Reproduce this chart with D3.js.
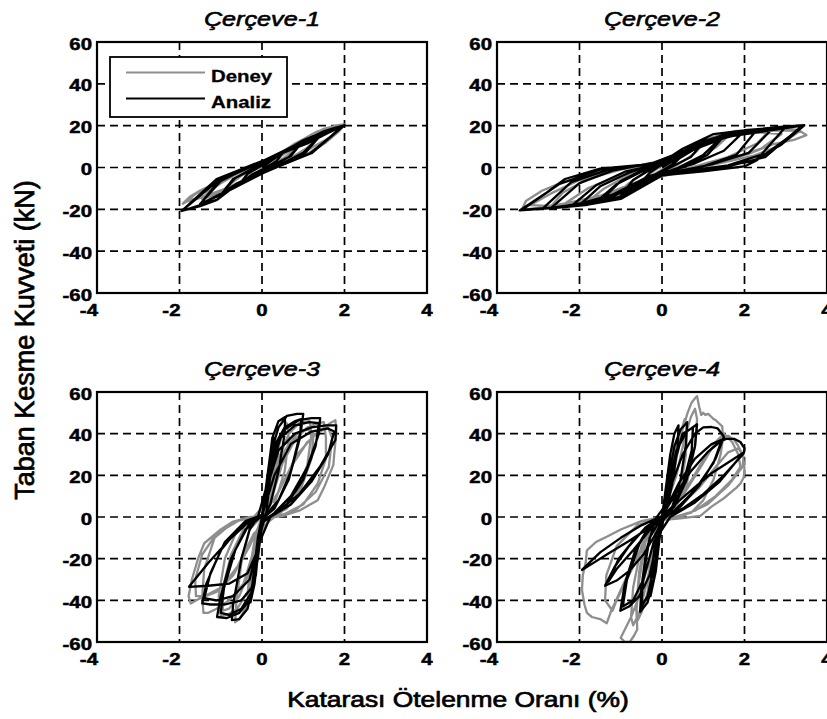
<!DOCTYPE html>
<html>
<head>
<meta charset="utf-8">
<script src="https://cdn.jsdelivr.net/npm/d3@7"></script>
<style>
  body { margin: 0; background: #fff; }
  text { font-family: "Liberation Sans", Arial, sans-serif; fill: #000; }
</style>
</head>
<body>
<svg id="chart" width="827" height="719"></svg>
<script>
// ticks and labels
const xTicks = [-4, -2, 0, 2, 4];
const yTicks = [-60, -40, -20, 0, 20, 40, 60];
const titles = ["Çerçeve-1", "Çerçeve-2", "Çerçeve-3", "Çerçeve-4"];
const seriesNames = ["Deney", "Analiz"];
const xLabel = "Katarası Ötelenme Oranı (%)";
const yLabel = "Taban Kesme Kuvveti (kN)";

// [drift %, base shear kN]
const c1Deney = [[0,0],[0.2,2.8],[0.35,5.2],[0.5,6.6],[0.42,4.5],[0.2,1.2],[0,-1],[-0.2,-3.3],[-0.4,-5.5],[-0.5,-6.5],[-0.38,-4],[-0.15,-1],[0.05,1],[0.3,4.5],[0.55,7.5],
  [0.75,10.5],[1.0,13.2],[0.9,10.5],[0.6,5.5],[0.3,1.8],[0,-1.5],[-0.3,-5],[-0.6,-9],[-0.85,-11.5],[-1.0,-12.5],[-0.85,-9],[-0.5,-4],[-0.2,-0.5],[0.1,2],[0.45,6.8],[0.8,11.5],[1.0,13.5],
  [1.2,15.8],[1.35,17.3],[1.5,18.2],[1.4,15],[1.1,9.5],[0.7,4.5],[0.3,0.5],[-0.1,-2.5],[-0.5,-7],[-0.9,-11],[-1.2,-13.5],[-1.45,-15],[-1.3,-11.5],[-1.0,-7.5],[-0.6,-3],[-0.2,0.5],[0.3,5],[0.8,11.2],[1.2,15.5],[1.5,18.5],
  [1.7,19.5],[1.85,20.2],[2.0,20.6],[1.85,17],[1.55,12],[1.15,7.2],[0.7,3],[0.2,-0.8],[-0.3,-4.5],[-0.8,-9.5],[-1.2,-12.3],[-1.55,-14.5],[-1.8,-16],[-1.92,-17.3],[-1.75,-14],[-1.5,-11],[-1.2,-8.3],[-0.8,-4.5],[-0.4,-1.2],[0,1],[0.5,6],[1.0,12],[1.5,17.5],[1.95,20.3],
  [1.7,15],[1.3,10.5],[0.8,5],[0.3,0.5],[-0.3,-5.5],[-0.9,-11.5],[-1.4,-14],[-1.85,-16.5],[-1.6,-12.5],[-1.1,-7.5],[-0.5,-2],[0.1,2.5],[0.7,9],[1.3,15.5],[1.8,19.5]];
const c1Analiz = [[0,0],[0.25,3.5],[0.5,7],[0.35,3],[0.05,-0.5],[-0.25,-3.5],[-0.5,-7],[-0.35,-3],[-0.05,0.5],[0.5,7.2],
  [0.75,10],[1.0,12.5],[0.65,5],[0.1,-1],[-0.5,-7.5],[-1.0,-13],[-0.65,-5],[-0.1,1],[0.5,7.5],[1.0,12.8],
  [0.7,5.5],[0.05,-1],[-1.0,-13.2],[-0.7,-5.5],[0,1.5],[1.0,13],
  [1.25,15],[1.5,17],[1.0,7],[0.3,0],[-0.6,-7.5],[-1.1,-14],[-1.5,-17.5],[-1.0,-6.5],[-0.3,0.5],[0.6,8],[1.1,13.5],[1.5,17.2],
  [1.05,7],[0.2,-0.5],[-1.5,-17.6],[-1.05,-6.5],[-0.2,1],[1.5,17.3],
  [1.75,18.8],[2.0,20.2],[1.15,6.5],[0.4,0.5],[-0.6,-8],[-1.09,-15.5],[-1.5,-18.5],[-1.95,-20.8],[-1.1,-5.5],[-0.4,0],[0.5,7],[1.1,11.5],[1.6,16.5],[2.0,20.2],
  [1.2,6.8],[0.3,0],[-0.8,-11],[-1.1,-15.5],[-1.95,-20.8],[-1.05,-6],[-0.2,1],[0.8,10],[1.97,20],[1.2,7],[0.4,0.8],[0,-1]];

const c2Deney = [[0,0],[0.3,3.5],[0.55,6.5],[0.35,3],[0,-1],[-0.3,-4.5],[-0.55,-7.5],[-0.3,-3],[0,1],[0.4,5.5],
  [0.8,10.5],[1.1,13.5],[0.8,7],[0.4,1.5],[0,-2.5],[-0.5,-8],[-0.9,-12.5],[-1.2,-14.5],[-0.8,-7.5],[-0.4,-2],[0,2],[0.5,8],[1.0,13],
  [1.4,15.5],[1.7,16.8],[1.3,9.5],[0.8,3.5],[0.2,-2],[-0.5,-8.5],[-1.1,-13.5],[-1.6,-16.5],[-1.9,-17.8],[-1.4,-10],[-0.8,-3.5],[-0.2,1],[0.5,7.5],[1.1,13.8],[1.7,17],
  [2.2,17.8],[2.6,17.5],[2.3,11.5],[1.6,5],[0.8,0.5],[0,-3.5],[-0.8,-9.5],[-1.5,-14.5],[-2.2,-18],[-2.7,-18.8],[-2.4,-12],[-1.8,-5.5],[-1.0,-1],[0,2.5],[0.9,11.5],[1.7,16.5],[2.5,18],
  [3.0,18.5],[3.3,18],[3.5,15.5],[3.2,13.2],[2.7,11.2],[2.1,6.5],[1.3,2],[0.4,-2.5],[-0.6,-7],[-1.5,-13.5],[-2.3,-17],[-3.0,-19.3],[-3.4,-20.3],[-3.3,-16],[-2.9,-11],[-2.4,-7],[-1.7,-3],[-0.8,0],[0.2,4],[1.0,12.5],[1.8,17.5],[2.6,17.8],[3.35,17.5],
  [2.8,10],[2.2,5.5],[1.5,2.5],[0.8,-0.5],[0,-4],[-0.7,-10],[-1.4,-14.5],[-2.0,-17],[-2.6,-18.5],[-3.2,-18],[-2.7,-12.5],[-2.0,-6],[-1.2,-1.5],[-0.4,1],[0.4,6.5],[1.0,12],[1.6,15.5],[2.3,16.8],[2.9,16],[2.4,9],[1.6,3.5],[0.7,0],[-0.2,-4],[-1.0,-11],[-1.7,-15.5],[-2.4,-17.8],[-1.8,-10],[-1.0,-3.5],[0,1.5],[0.8,9],[1.5,14.5]];
const c2Analiz = [[0,0],[0.5,6],[0.3,2],[0,-1.5],[-0.5,-7],[-0.3,-2.5],[0,1.5],[0.5,6.5],
  [1.0,12],[0.7,5],[0.2,0],[-0.4,-6],[-1.0,-13.5],[-0.7,-6],[-0.2,0],[0.4,5.5],[1.0,12.5],
  [1.5,15.5],[1.0,6],[0.4,0],[-0.4,-6],[-1.0,-12],[-1.5,-16],[-1.0,-6.5],[-0.4,-0.5],[0.4,5.5],[1.0,11],[1.5,15.8],
  [2.0,17.5],[1.5,8],[0.8,2],[0,-3],[-0.8,-10],[-1.4,-15],[-2.0,-18],[-1.5,-9],[-0.8,-2.5],[0,2.5],[0.8,9],[1.4,14],[2.0,17.8],
  [2.7,19],[2.1,7],[1.2,1.5],[0,-3.5],[-1.0,-12],[-1.8,-16.5],[-2.7,-19.5],[-2.0,-7.5],[-1.2,-1.5],[0,3],[1.0,12],[1.8,16.5],[2.7,19.2],
  [3.45,20.2],[2.9,12],[2.3,3.5],[2.0,0.5],[1.0,-1.8],[0,-3.8],[-0.5,-9.5],[-1.0,-15],[-1.8,-17.8],[-2.5,-19.2],[-3.45,-20.5],[-2.8,-12],[-2.35,-5.5],[-1.5,-0.5],[-0.5,1.2],[0,2.5],[0.5,9],[1.25,16],[2.0,17.8],[2.6,18.7],[3.45,20.2],
  [2.9,11],[2.2,3],[1.0,-1],[0,-3],[-1,-14],[-2.5,-19],[-3.4,-20.3],[-2.5,-8],[-1.5,-1],[0,2],[1.0,13],[3.4,20],[2.5,5],[1.5,0],[0,-2],
  [-0.6,-8],[-1.2,-14],[-1.6,-16.5],[-1.1,-8],[-0.5,-2],[0.3,3],[0.9,10],[1.5,15],[1.1,6],[0.5,0],[-0.3,-4],[-1.2,-13],[-2.2,-18.5],[-1.6,-8.5],[-0.9,-2],[0,2],[0.7,8],[1.5,14],[2.3,18],[1.8,6],[1.0,0.5],[0,-3],[-0.7,-9],[-1.3,-14.5],[-2.0,-17.5],[-2.9,-19.8],[-2.2,-7],[-1.3,-1],[-0.3,1.5],[0.6,8.5],[1.4,15],[2.2,17.5],[3.0,19.5],[2.4,6],[1.6,1],[0.5,-2]];

const c3Deney = [[0,0],[0.15,12],[0.3,25],[0.4,34],[0.35,22],[0.2,6],[0,0],[-0.1,-12],[-0.25,-28],[-0.35,-38],[-0.3,-25],[-0.15,-8],[0,0],
  [0.2,15],[0.35,30],[0.5,40],[0.6,45],[0.65,38],[0.55,22],[0.3,6],[0.05,0],[-0.1,-15],[-0.25,-33],[-0.4,-44],[-0.55,-49],[-0.65,-50.5],[-0.62,-40],[-0.5,-22],[-0.3,-6],[0,0.5],
  [0.2,12],[0.4,28],[0.65,40],[0.9,45],[1.15,46],[1.2,40],[1.1,25],[0.8,9],[0.4,1],[0,-1],[-0.15,-20],[-0.35,-36],[-0.6,-44],[-0.85,-47],[-1.0,-47.5],[-1.05,-38],[-0.9,-20],[-0.6,-6],[-0.2,0],
  [0.25,10],[0.5,26],[0.8,37],[1.1,43],[1.35,45],[1.5,45.5],[1.55,38],[1.55,28],[1.35,16],[1.0,6],[0.5,1],[0,-1.5],[-0.2,-16],[-0.45,-32],[-0.8,-40],[-1.1,-44],[-1.3,-46],[-1.42,-46],[-1.45,-38],[-1.4,-25],[-1.15,-10],[-0.7,-2.5],[-0.2,0],
  [0.3,8],[0.7,24],[1.1,36],[1.45,42],[1.65,45],[1.78,46.5],[1.8,40],[1.75,30],[1.73,25],[1.5,14],[1.35,8],[0.9,3],[0.5,0.5],[0,-1],[-0.3,-14],[-0.7,-28],[-1.1,-36],[-1.5,-39],[-1.73,-41.5],[-1.78,-38],[-1.7,-30],[-1.55,-20],[-1.4,-12.6],[-1.0,-6],[-0.7,-2.2],[-0.3,0],[0.1,1],
  [0.3,16],[0.55,32],[0.85,40],[1.1,42],[1.25,40],[1.2,28],[0.95,14],[0.6,4],[0.2,0],[-0.1,-10],[-0.3,-26],[-0.55,-38],[-0.8,-44],[-0.95,-45],[-0.95,-34],[-0.75,-18],[-0.45,-6],[0,0],[0.4,12],[0.85,30],[1.3,40],[1.6,43],[1.7,38],[1.62,24],[1.3,12],[0.8,3],[0.3,0],[-0.2,-8],[-0.6,-24],[-1.0,-34],[-1.4,-38],[-1.6,-38],[-1.62,-30],[-1.45,-18],[-1.1,-8],[-0.5,-1]];
const c3Analiz = [[0,0],[0.1,15],[0.2,30],[0.3,38],[0.25,28],[0.1,8],[0,0],[-0.08,-15],[-0.18,-32],[-0.28,-41],[-0.22,-30],[-0.1,-10],[0,0],
  [0.15,22],[0.25,38],[0.4,46],[0.56,48],[0.55,40],[0.4,22],[0.2,6],[0.05,0],
  [-0.1,-15],[-0.2,-32],[-0.35,-44],[-0.55,-49],[-0.73,-49.5],[-0.7,-42],[-0.5,-20],[-0.3,-6],[-0.1,0],
  [0.1,14],[0.25,33],[0.4,43],[0.6,48.5],[0.85,49.5],[1.0,49.5],[0.95,42],[0.7,22],[0.4,8],[0.1,1],
  [-0.05,-8],[-0.15,-28],[-0.3,-40],[-0.55,-46],[-0.85,-48.5],[-1.09,-48],[-1.0,-38],[-0.75,-20],[-0.4,-6],[0,0.5],
  [0.12,16],[0.3,33],[0.55,42],[0.9,46.5],[1.2,47.5],[1.41,47.5],[1.38,40],[1.1,24],[0.7,10],[0.3,2],
  [0,-3],[-0.1,-20],[-0.25,-34],[-0.5,-40],[-0.9,-42],[-1.25,-42],[-1.45,-41.5],[-1.35,-32],[-1.0,-16],[-0.5,-4],[0,1],
  [0.15,16],[0.4,32],[0.8,40],[1.2,43],[1.55,44],[1.8,44],[1.78,37],[1.4,24],[0.9,11],[0.4,3],
  [0,-2],[-0.15,-18],[-0.35,-27],[-0.8,-32],[-1.3,-33],[-1.77,-33.5],[-1.3,-22],[-0.8,-11],[-0.3,-2],[0.1,1],
  [0.2,20],[0.35,36],[0.55,43],[0.8,46],[0.95,47],[0.92,38],[0.65,18],[0.3,4],[0,-1],[-0.1,-18],[-0.25,-36],[-0.5,-44],[-0.8,-47],[-1.0,-46],[-0.92,-34],[-0.65,-16],[-0.3,-3],[0,1],
  [0.2,22],[0.45,38],[0.8,44],[1.15,45.5],[1.38,45],[1.3,34],[1.0,18],[0.6,6],[0.2,0],[-0.1,-14],[-0.3,-30],[-0.7,-38],[-1.1,-40],[-1.4,-39],[-1.25,-27],[-0.9,-12],[-0.4,-2],[0,1],
  [0.3,20],[0.7,35],[1.2,41],[1.6,42.5],[1.75,41],[1.6,30],[1.2,17],[0.7,6],[0.2,0]];

const c4Deney = [[0,0],[0.1,10],[0.2,22],[0.3,32],[0.35,36],[0.3,22],[0.15,6],[0,0],[-0.08,-10],[-0.18,-22],[-0.3,-34],[-0.35,-38],[-0.3,-24],[-0.15,-6],[0,0],
  [0.15,14],[0.3,28],[0.45,40],[0.55,47],[0.6,44],[0.58,30],[0.45,14],[0.25,3],[0,0],[-0.1,-12],[-0.25,-28],[-0.4,-40],[-0.5,-46],[-0.6,-50],[-0.62,-42],[-0.55,-26],[-0.4,-10],[-0.2,-2],[0,0],
  [0.2,12],[0.35,28],[0.5,42],[0.62,50],[0.72,55],[0.8,57],[0.85,58],[0.9,53],[0.95,49],[1.0,50],[1.05,49],[1.12,49.5],[1.2,48],[1.25,47],[1.3,46.5],[1.38,45],[1.46,43.5],[1.48,38],[1.42,30],[1.25,18],[1.0,8],[0.7,2],[0.3,0],
  [0,-1],[-0.3,-20],[-0.55,-38],[-0.75,-48],[-0.9,-54],[-1.0,-58],[-0.9,-60],[-0.78,-60],[-0.68,-57],[-0.6,-54],[-0.62,-45],[-0.55,-30],[-0.4,-12],[-0.15,-2],[0,0],
  [0.3,6],[0.6,14],[0.9,24],[1.2,33],[1.45,38],[1.6,39],[1.75,37],[1.85,34],[1.95,30],[1.98,27],[2.0,23],[1.98,19],[1.9,16],[1.8,14],[1.74,13],[1.5,9],[1.2,5],[0.93,0.5],[0.5,-0.5],
  [0,-1.5],[-0.3,-8],[-0.7,-22],[-1.0,-35],[-1.25,-46],[-1.34,-51],[-1.5,-49],[-1.7,-48],[-1.82,-46],[-1.88,-42],[-1.94,-35],[-1.92,-28],[-1.85,-22],[-1.82,-16],[-1.6,-12],[-1.34,-9.5],[-1.0,-6],[-0.5,-2],[0,0],
  [0.4,5],[0.9,14],[1.3,24],[1.6,31],[1.85,33],[1.98,29],[1.95,24],[1.6,15],[1.1,6],[0.5,0.5],[0,-1],[-0.4,-12],[-0.8,-28],[-1.1,-40],[-1.2,-45],[-1.38,-40],[-1.35,-28],[-1.1,-14],[-0.6,-4],[0,0],
  [0.35,20],[0.55,38],[0.7,48],[0.8,52],[0.85,47],[0.8,34],[0.6,16],[0.3,3],[0,-1],[-0.2,-16],[-0.4,-34],[-0.55,-46],[-0.7,-52],[-0.75,-48],[-0.7,-34],[-0.5,-14],[-0.2,-3],[0,0],[0.5,10],[1.0,26],[1.3,36],[1.5,40],[1.7,36],[1.85,30],[1.9,24],[1.7,18],[1.3,10],[0.8,3],[0.3,0]];
const c4Analiz = [[0,0],[0.1,15],[0.2,30],[0.3,40],[0.4,44],[0.38,34],[0.25,16],[0.1,3],[0,0],[-0.07,-12],[-0.15,-26],[-0.28,-38],[-0.25,-26],[-0.15,-10],[0,0],
  [0.15,18],[0.3,34],[0.45,42],[0.61,45.5],[0.58,35],[0.45,18],[0.25,5],[0.05,0],[-0.1,-14],[-0.2,-30],[-0.35,-41],[-0.53,-45.5],[-0.5,-34],[-0.38,-16],[-0.2,-4],[0,0.5],
  [0.15,14],[0.35,32],[0.6,41],[0.85,44.5],[0.8,34],[0.6,18],[0.3,5],[0.05,0],[-0.12,-12],[-0.3,-28],[-0.55,-38],[-0.8,-43],[-1.01,-45],[-0.9,-32],[-0.65,-16],[-0.3,-4],[0,0.5],
  [0.2,14],[0.5,30],[0.8,40],[1.0,43],[1.2,43.2],[1.35,42.5],[1.45,40],[1.5,38.5],[1.3,28],[0.9,15],[0.45,5],[0.05,0],[-0.15,-8],[-0.45,-18],[-0.8,-26],[-1.1,-30.5],[-1.38,-33],[-1.15,-24],[-0.8,-14],[-0.4,-5],[0,0.5],
  [0.3,10],[0.7,22],[1.1,31],[1.4,36],[1.55,37.5],[1.75,37.5],[1.9,36],[2.0,33],[1.98,30.5],[1.5,20],[1.0,11],[0.5,4],[0.05,0],[-0.3,-5],[-0.8,-11.5],[-1.3,-17.5],[-1.7,-22.5],[-1.94,-25.4],[-1.5,-17],[-1.0,-10],[-0.5,-4],[0,0.5],[0.6,11],[1.2,21],[1.98,31],
  [1.4,17],[0.8,7],[0.2,0],[-0.2,-12],[-0.45,-30],[-0.7,-40],[-0.95,-43],[-0.85,-30],[-0.55,-13],[-0.2,-2],[0.1,6],[0.3,26],[0.5,40],[0.75,43],[0.72,32],[0.5,15],[0.2,2],[0,-2],[-0.15,-20],[-0.35,-38],[-0.5,-43],[-0.45,-28],[-0.3,-10],[0,0],[0.4,16],[0.8,28],[1.2,35],[1.45,37],[1.25,26],[0.8,13],[0.3,3],[-0.2,-4],[-0.7,-16],[-1.1,-25],[-1.3,-31],[-1.05,-20],[-0.6,-9],[0,0]];

const deneySets = [c1Deney, c2Deney, c3Deney, c4Deney];
const analizSets = [c1Analiz, c2Analiz, c3Analiz, c4Analiz];

// layout
const SX = 1.2;            // the source figure is stretched horizontally
const panels = [
  {left: 97, top: 42, w: 330, h: 251},
  {left: 497, top: 42, w: 330, h: 251},
  {left: 97, top: 392, w: 330, h: 250},
  {left: 497, top: 392, w: 330, h: 250}
];
const colDeney = "#8e8e8e", colAnaliz = "#000";

const svg = d3.select("#chart");

function stext(g, x, y, str, anchor, size, weight, style, sw) {
  return g.append("text")
    .attr("transform", `translate(${x},${y}) scale(${SX},1)`)
    .attr("text-anchor", anchor)
    .style("font-size", size + "px")
    .style("font-weight", weight || "normal")
    .style("font-style", style || "normal")
    .style("stroke", "#000")
    .style("stroke-width", sw || 0.4)
    .text(str);
}

panels.forEach((p, i) => {
  const x = d3.scaleLinear().domain([-4, 4]).range([p.left, p.left + p.w]);
  const y = d3.scaleLinear().domain([-60, 60]).range([p.top + p.h, p.top]);
  const g = svg.append("g");

  g.append("clipPath").attr("id", "clip" + i)
    .append("rect").attr("x", p.left).attr("y", p.top).attr("width", p.w).attr("height", p.h);

  // grid
  xTicks.slice(1, -1).forEach(t => {
    g.append("line").attr("x1", x(t)).attr("x2", x(t)).attr("y1", p.top).attr("y2", p.top + p.h)
      .style("stroke", "#000").style("stroke-width", 1.7).style("stroke-dasharray", "8,5");
  });
  yTicks.slice(1, -1).forEach(t => {
    g.append("line").attr("x1", p.left).attr("x2", p.left + p.w).attr("y1", y(t)).attr("y2", y(t))
      .style("stroke", "#000").style("stroke-width", 1.7).style("stroke-dasharray", "8,5");
  });

  const line = d3.line().x(d => x(d[0])).y(d => y(d[1]));
  const data = g.append("g").attr("clip-path", `url(#clip${i})`);
  data.append("path").datum(deneySets[i]).attr("d", line)
    .style("fill", "none").style("stroke", colDeney).style("stroke-width", 2.3).style("stroke-linejoin", "round");
  data.append("path").datum(analizSets[i]).attr("d", line)
    .style("fill", "none").style("stroke", colAnaliz).style("stroke-width", 2.3).style("stroke-linejoin", "round");

  // frame
  g.append("rect").attr("x", p.left).attr("y", p.top).attr("width", p.w).attr("height", p.h)
    .style("fill", "none").style("stroke", "#000").style("stroke-width", 2.2);

  // tick labels
  yTicks.forEach(t => stext(g, p.left - 5, y(t) + 7.5, t, "end", 17, "bold", null, 0.5));
  xTicks.forEach(t => stext(g, t < 0 ? x(t) + 1 : x(t), p.top + p.h + 23, t, t < 0 ? "end" : "middle", 17, "bold", null, 0.5));

  stext(g, p.left + p.w / 2, p.top - 16, titles[i], "middle", 21, "normal", "italic", 0.6);
});

// legend in first panel
const lg = svg.append("g");
lg.append("rect").attr("x", 110).attr("y", 57).attr("width", 177).attr("height", 60)
  .style("fill", "#fff").style("stroke", "#000").style("stroke-width", 1.8);
[colDeney, colAnaliz].forEach((c, k) => {
  const ly = 72.5 + k * 26;
  lg.append("line").attr("x1", 126).attr("x2", 205).attr("y1", ly).attr("y2", ly)
    .style("stroke", c).style("stroke-width", 2.2);
  stext(lg, 211, ly + 9, seriesNames[k], "start", 17, "bold", null, 0.3);
});

// axis titles
stext(svg, 458, 707, xLabel, "middle", 22, "normal", null, 0.7);
svg.append("text")
  .attr("transform", "translate(34,340) rotate(-90)")
  .attr("text-anchor", "middle")
  .style("font-size", "27px")
  .style("stroke", "#000")
  .style("stroke-width", 0.7)
  .text(yLabel);
</script>
</body>
</html>
